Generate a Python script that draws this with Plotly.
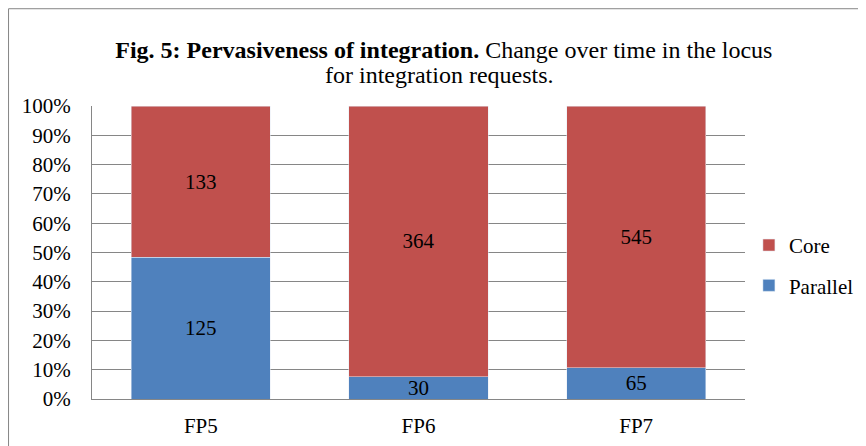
import plotly.graph_objects as go

# Fig. 5 data: integration requests per framework programme
programmes = ["FP5", "FP6", "FP7"]
parallel = [125, 30, 65]
core = [133, 364, 545]

red = "#C0504D"
blue = "#4F81BD"
serif = "Liberation Serif, Times New Roman, serif"

fig = go.Figure()

fig.add_trace(go.Bar(
  x = programmes,
  y = parallel,
  name = "Parallel",
  legendgroup = "p",
  legendrank = 2,
  marker = {"color": blue},
  text = parallel,
  textposition = "inside",
  insidetextanchor = "middle",
  textangle = 0,
  constraintext = "none",
  textfont = {"color": "black", "size": 21, "family": serif},
))

fig.add_trace(go.Bar(
  x = programmes,
  y = core,
  name = "Core",
  legendgroup = "c",
  legendrank = 1,
  marker = {"color": red},
  text = core,
  textposition = "inside",
  insidetextanchor = "middle",
  textangle = 0,
  constraintext = "none",
  textfont = {"color": "black", "size": 21, "family": serif},
))

# page body adds an 8px offset, so the figure is 8px smaller than the window
fig.update_layout(
  width = 858,
  height = 438,
  barmode = "stack",
  barnorm = "percent",
  bargap = 0.36,
  paper_bgcolor = "white",
  plot_bgcolor = "white",
  font = {"family": serif, "size": 21, "color": "black"},
  margin = {"l": 84, "r": 121, "t": 98, "b": 47, "autoexpand": False},
  title = {
    "text": "<b>Fig. 5: Pervasiveness of integration.</b> Change over time in the locus",
    "x": 0.508,
    "xanchor": "center",
    "y": 1 - 42 / 438,
    "yanchor": "middle",
    "font": {"size": 24, "family": serif},
  },
  annotations = [{
    "text": "for integration requests.",
    "xref": "paper", "yref": "paper",
    "x": 0.5315, "y": 1 + (98 - 67) / 293,
    "xanchor": "center", "yanchor": "middle",
    "showarrow": False,
    "font": {"size": 24, "family": serif},
  }],
  legend = {
    "traceorder": "grouped",
    "x": 1.006,
    "xanchor": "left",
    "y": 0.456,
    "yanchor": "middle",
    "font": {"size": 21},
    "itemwidth": 30,
    "tracegroupgap": 10,
    "bgcolor": "rgba(0,0,0,0)",
  },
  shapes = [{
    "type": "rect", "xref": "paper", "yref": "paper",
    "x0": -0.1278, "x1": 1.3, "y0": -0.3, "y1": 1.332,
    "line": {"color": "#868686", "width": 1},
  }],
)

fig.update_yaxes(
  range = [0, 100],
  dtick = 10,
  ticksuffix = "%",
  showgrid = True,
  gridcolor = "#868686",
  showline = True,
  linecolor = "#868686",
  ticks = "",
  ticklabelstandoff = 16,
)

fig.update_xaxes(
  showline = True,
  linecolor = "#868686",
  ticks = "",
  ticklabelstandoff = 8,
)

fig.write_html("out.html")
